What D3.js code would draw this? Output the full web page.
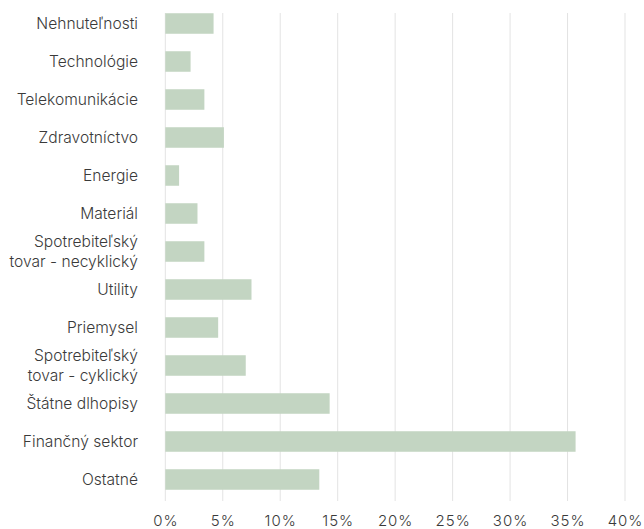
<!DOCTYPE html>
<html><head><meta charset="utf-8">
<script src="https://cdn.jsdelivr.net/npm/d3@7"></script>
<style>body{margin:0;background:#fff;} svg{display:block;}</style>
</head><body>
<svg id="chart" width="644" height="529"></svg>
<script>
const categories = ["Nehnuteľnosti","Technológie","Telekomunikácie","Zdravotníctvo","Energie","Materiál","Spotrebiteľský|tovar - necyklický","Utility","Priemysel","Spotrebiteľský|tovar - cyklický","Štátne dlhopisy","Finančný sektor","Ostatné"];
const values = [4.2, 2.2, 3.4, 5.1, 1.2, 2.8, 3.4, 7.5, 4.6, 7.0, 14.3, 35.7, 13.4];
const ticks = [0,5,10,15,20,25,30,35,40];

const svg = d3.select("#chart");
const margin = {left:165.3, right:19, top:4.5, bottom:38};
const W = 644, H = 529;
const x = d3.scaleLinear().domain([0,40]).range([margin.left, W - margin.right]);
const y = d3.scaleBand().domain(categories).range([margin.top, margin.top + 38*13]).paddingInner(0.46).paddingOuter(0.23);
const font = "Inter, 'Noto Sans', sans-serif";

// gridlines
svg.append("g").selectAll("line").data(ticks).join("line")
  .attr("x1", d=>x(d)).attr("x2", d=>x(d))
  .attr("y1", 13).attr("y2", 501)
  .attr("stroke", "#e3e3e3").attr("stroke-width", 1);

// bars
svg.append("g").selectAll("rect").data(values).join("rect")
  .attr("x", x(0)).attr("y", (d,i)=>y(categories[i]))
  .attr("width", d=>x(d)-x(0)).attr("height", y.bandwidth())
  .attr("fill", "#c3d5c2");

// category labels (one text per line)
const lines = [];
categories.forEach(c=>{
  const parts = c.split("|");
  const cy = y(c) + y.bandwidth()/2;
  parts.forEach((p,i)=>{
    const off = parts.length>1 ? (i===0 ? -9.6 : 9.6) : 0;
    lines.push({text:p, y: cy + off});
  });
});
svg.append("g").selectAll("text").data(lines).join("text")
  .attr("x", 138).attr("text-anchor","end")
  .attr("y", d=>d.y).attr("dy","0.35em")
  .attr("font-family", font).attr("font-size", 15.6).attr("font-weight", 300).attr("fill", "#3a3a3a")
  .text(d=>d.text);

// x axis tick labels
const xAxis = d3.axisBottom(x).tickValues(ticks).tickFormat(d=>d+"%").tickSize(0).tickPadding(0);
const g = svg.append("g").attr("transform", "translate(0,515)").call(xAxis);
g.select(".domain").remove();
g.selectAll("text").attr("font-family", font).attr("font-size", 15).attr("font-weight", 300).attr("fill", "#3a3a3a").attr("letter-spacing","1px");
</script>
</body></html>
